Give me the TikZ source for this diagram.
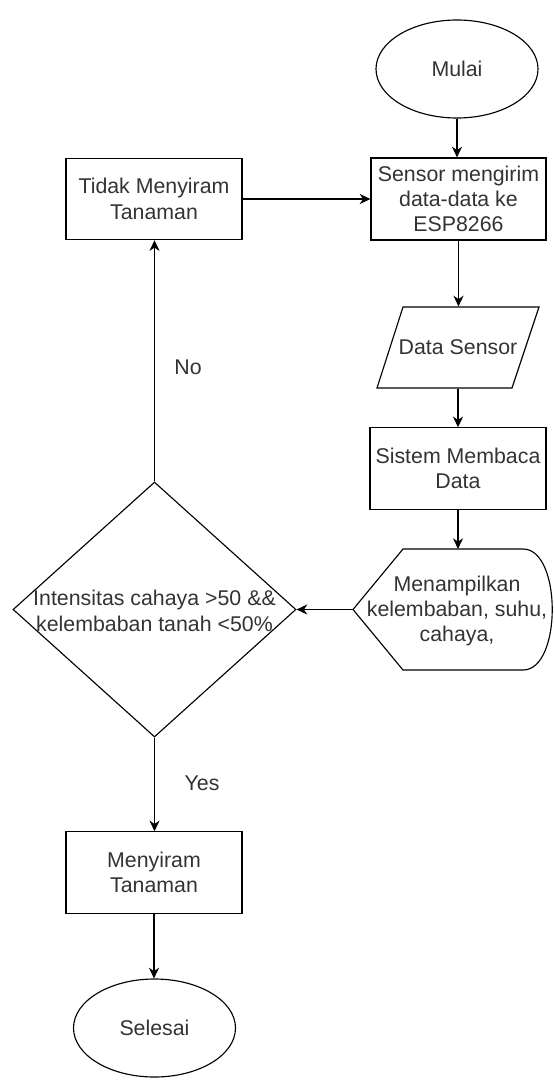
\documentclass[tikz,border=0pt]{standalone}
\usepackage{fontspec}
\setmainfont{Liberation Sans}
\usetikzlibrary{arrows.meta,shapes.geometric}
\definecolor{txt}{HTML}{333333}
\begin{document}
\begin{tikzpicture}[x=0.75pt,y=-0.75pt,
  line width=0.85pt,
  every node/.style={font=\fontsize{16}{19}\selectfont, text=txt, align=center},
  box/.style={draw=black, rectangle, minimum width=132pt, minimum height=61pt, inner sep=0pt},
  oval/.style={draw=black, ellipse, minimum width=121.5pt, minimum height=73.5pt, inner sep=0pt},
  plain/.style={inner sep=0pt},
  conn/.style={draw=black, -{Stealth[length=8pt,width=7.5pt,inset=2.5pt]}}]
\useasboundingbox (0,0) rectangle (553,1081);

% right column
\node[oval] (mulai) at (457,69) {Mulai};
\node[box, minimum width=131.25pt, minimum height=61.5pt] (sensor) at (458.5,199) {Sensor mengirim\\data-data ke\\ESP8266};
\draw (403,307) -- (539,307) -- (512,388) -- (377,388) -- cycle;
\node[plain, minimum height=60.75pt] (data) at (458,347.5) {Data Sensor};
\node[box] (sistem) at (458,468.5) {Sistem Membaca\\Data};
\draw (353,609.5) -- (403,549) -- (523,549) .. controls (562,549) and (562,670) .. (523,670) -- (403,670) -- cycle;
\coordinate (disptop) at (458,549);
\coordinate (displeft) at (353,609.5);
\node[plain] (disp) at (457,611) {Menampilkan\\kelembaban, suhu,\\cahaya,};

% left column
\node[box] (tidak) at (154,199) {Tidak Menyiram\\Tanaman};
\node[draw=black, diamond, inner sep=0pt, minimum width=212.25pt, minimum height=191.25pt] (cond) at (154.5,609.5) {};
\node[plain] (condtext) at (154.5,611) {Intensitas cahaya >50 \&\&\\kelembaban tanah <50\%};
\node[box] (menyiram) at (154,872.5) {Menyiram\\Tanaman};
\node[oval] (selesai) at (154.5,1028) {Selesai};

% labels
\node[plain] (no) at (188,367) {No};
\node[plain] (yes) at (202,783) {Yes};

% connectors
\draw[conn] (mulai.south) -- (mulai.south |- sensor.north);
\draw[conn] (sensor.south) -- (sensor.south |- data.north);
\draw[conn] (data.south) -- (data.south |- sistem.north);
\draw[conn] (sistem.south) -- (disptop);
\draw[conn] (displeft) -- (cond.east);
\draw[conn] (cond.north) -- (cond.north |- tidak.south);
\draw[conn] (tidak.east) -- (sensor.west);
\draw[conn] (cond.south) -- (cond.south |- menyiram.north);
\draw[conn] (menyiram.south) -- (menyiram.south |- selesai.north);
\end{tikzpicture}
\end{document}
